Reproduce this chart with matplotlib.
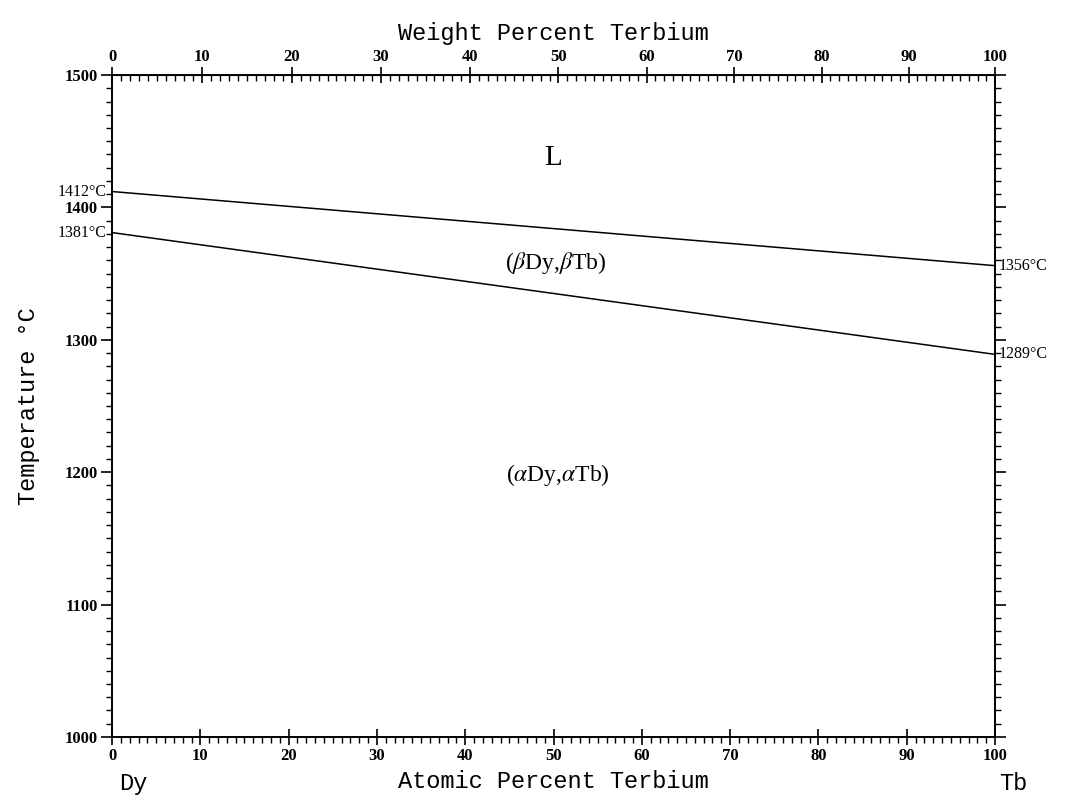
import numpy as np
import matplotlib.pyplot as plt
from matplotlib.ticker import MultipleLocator, FixedLocator

plt.rcParams.update({
    "font.family": "serif",
    "font.serif": ["Liberation Serif", "DejaVu Serif"],
    "mathtext.fontset": "stix",
})

# phase boundaries (at.% Tb, °C)
x_liq = [0, 100]
t_liq = [1412, 1356]
x_tr = [0, 100]
t_tr = [1381, 1289]

end_labels = [(0, 1412, "1412°C", "right"), (0, 1381, "1381°C", "right"),
              (100, 1356, "1356°C", "left"), (100, 1289, "1289°C", "left")]
regions = [(50, 1437, "L", 21), (50.3, 1358, r"($\beta$Dy,$\beta$Tb)", 17),
           (50.5, 1198, r"($\alpha$Dy,$\alpha$Tb)", 17)]

M_DY, M_TB = 162.50, 158.925

def wt_to_at(w):
    w = np.asarray(w, dtype=float)
    a = w / M_TB
    b = (100 - w) / M_DY
    return 100 * a / (a + b)

def at_to_wt(x):
    x = np.asarray(x, dtype=float)
    a = x * M_TB
    b = (100 - x) * M_DY
    return 100 * a / (a + b)

mono = ["Liberation Mono", "DejaVu Sans Mono"]

fig = plt.figure(figsize=(10.71, 8.05), dpi=100)
ax = fig.add_axes([0.1046, 0.0845, 0.8245, 0.8223])

ax.plot(x_liq, t_liq, color="black", lw=1.1)
ax.plot(x_tr, t_tr, color="black", lw=1.1)

ax.set_xlim(0, 100)
ax.set_ylim(1000, 1500)

for x, t, s, ha in end_labels:
    dx = -0.6 if ha == "right" else 0.4
    ax.text(x + dx, t, s, ha=ha, va="center", fontsize=11.5, clip_on=False)

for x, t, s, fs in regions:
    ax.text(x, t, s, ha="center", va="center", fontsize=fs)

ax.xaxis.set_major_locator(MultipleLocator(10))
ax.xaxis.set_minor_locator(MultipleLocator(1))
ax.yaxis.set_major_locator(MultipleLocator(100))
ax.yaxis.set_minor_locator(MultipleLocator(10))
ax.tick_params(axis="x", which="major", direction="inout", length=12, width=1.2, labelsize=12, pad=2)
ax.tick_params(axis="x", which="minor", direction="out", length=4, width=1)
ax.tick_params(axis="y", which="major", direction="out", length=8, width=1.2, labelsize=12,
               right=True, pad=2)
ax.tick_params(axis="y", which="minor", direction="out", length=4, width=1, right=True)
ax.tick_params(axis="y", labelright=False)
for lab in ax.get_xticklabels() + ax.get_yticklabels():
    lab.set_fontweight("bold")
for sp in ax.spines.values():
    sp.set_linewidth(1.4)

top = ax.secondary_xaxis("top", functions=(at_to_wt, wt_to_at))
top.xaxis.set_major_locator(FixedLocator(np.arange(0, 101, 10)))
top.xaxis.set_minor_locator(FixedLocator(np.arange(0, 101, 1)))
top.tick_params(which="major", direction="inout", length=12, width=1.2, labelsize=12, pad=1)
top.tick_params(which="minor", direction="in", length=4, width=1)
for lab in top.get_xticklabels():
    lab.set_fontweight("bold")
top.set_xlabel("Weight Percent Terbium", family=mono, fontsize=17, labelpad=7)

ax.set_xlabel("Atomic Percent Terbium", family=mono, fontsize=17, labelpad=4)
ax.set_ylabel("Temperature °C", family=mono, fontsize=17, labelpad=18)

ax.text(0.008, -0.071, "Dy", transform=ax.transAxes, fontsize=17, ha="left", va="center",
        family=mono)
ax.text(1.005, -0.071, "Tb", transform=ax.transAxes, fontsize=17, ha="left", va="center",
        family=mono)

fig.savefig("out.png", dpi=100, facecolor="white")
